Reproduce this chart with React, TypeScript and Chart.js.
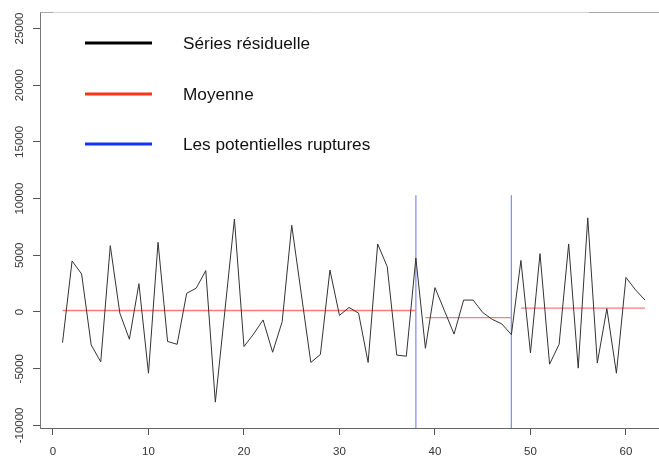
import React, { useEffect, useRef } from "react";
import { Chart, registerables } from "chart.js";

Chart.register(...registerables);

// ---- data ----
const X_INDEX = [
  1, 2, 3, 4, 5, 6, 7, 8, 9, 10, 11, 12, 13, 14, 15, 16, 17, 18, 19, 20, 21,
  22, 23, 24, 25, 26, 27, 28, 29, 30, 31, 32, 33, 34, 35, 36, 37, 38, 39, 40,
  41, 42, 43, 44, 45, 46, 47, 48, 49, 50, 51, 52, 53, 54, 55, 56, 57, 58, 59,
  60, 61, 62,
];
const RESIDUALS = [
  -2700, 4500, 3350, -2900, -4400, 5850, -100, -2400, 2500, -5400, 6150,
  -2600, -2850, 1650, 2100, 3650, -7950, 100, 8200, -3050, -1950, -700, -3550,
  -850, 7650, 1600, -4450, -3750, 3700, -300, 400, -100, -4450, 6000, 4000,
  -3800, -3900, 4750, -3200, 2150, 100, -1950, 1050, 1050, -50, -650, -1050,
  -2000, 4550, -3600, 5150, -4600, -2850, 6000, -4950, 8300, -4500, 300,
  -5400, 3050, 1950, 1050,
];
const MEAN_STARTS = [1, 39, 49];
const MEAN_ENDS = [38, 48, 62];
const MEAN_VALUES = [130, -500, 350];
const BREAKS = [38, 48];
const BREAK_TOP = 10300;

const X_TICKS = [0, 10, 20, 30, 40, 50, 60];
const Y_TICKS = [-10000, -5000, 0, 5000, 10000, 15000, 20000, 25000];
const Y_TICK_LABELS = ["-10000", "-5000", "0", "5000", "10000", "15000", "20000", "25000"];
const X_MIN = -1.36;
const X_MAX = 63.46;
const Y_MIN = -10230;
const Y_MAX = 26455;

const LEGEND_LABELS = ["Séries résiduelle", "Moyenne", "Les potentielles ruptures"];
const LEGEND_COLORS = ["#000000", "#ff3311", "#1133ff"];

const FONT = "'Liberation Sans', Arial, Helvetica, sans-serif";

const decorPlugin = {
  id: "decor",
  afterDraw(chart: any) {
    const ctx = chart.ctx as CanvasRenderingContext2D;
    const area = chart.chartArea;
    const ys = chart.scales.y;
    ctx.save();
    // top frame line (light, darker at the right end)
    ctx.lineWidth = 1;
    ctx.strokeStyle = "#d2d2d2";
    ctx.beginPath();
    ctx.moveTo(area.left, area.top + 0.5);
    ctx.lineTo(589, area.top + 0.5);
    ctx.stroke();
    ctx.strokeStyle = "#a8a8a8";
    ctx.beginPath();
    ctx.moveTo(589, area.top + 0.5);
    ctx.lineTo(area.right, area.top + 0.5);
    ctx.moveTo(area.left, area.top + 0.5);
    ctx.lineTo(area.left + 13, area.top + 0.5);
    ctx.stroke();

    // rotated y tick labels
    ctx.font = `11.5px ${FONT}`;
    ctx.fillStyle = "#333333";
    ctx.textAlign = "center";
    ctx.textBaseline = "middle";
    Y_TICKS.forEach((v, i) => {
      const py = ys.getPixelForValue(v);
      ctx.save();
      ctx.translate(area.left - 20, py);
      ctx.rotate(-Math.PI / 2);
      ctx.fillText(Y_TICK_LABELS[i], 0, 0);
      ctx.restore();
    });

    // legend
    const lx0 = area.left + 45;
    const lx1 = area.left + 112;
    const tx = area.left + 143;
    const rowY = [area.top + 31, area.top + 82, area.top + 132];
    ctx.font = `17.2px ${FONT}`;
    ctx.textAlign = "left";
    ctx.textBaseline = "middle";
    LEGEND_LABELS.forEach((label, i) => {
      ctx.strokeStyle = LEGEND_COLORS[i];
      ctx.lineWidth = 3;
      ctx.beginPath();
      ctx.moveTo(lx0, rowY[i]);
      ctx.lineTo(lx1, rowY[i]);
      ctx.stroke();
      ctx.fillStyle = "#111111";
      ctx.fillText(label, tx, rowY[i] + 1);
    });
    ctx.restore();
  },
};

export default function App() {
  const ref = useRef<HTMLCanvasElement | null>(null);

  useEffect(() => {
    if (!ref.current) return;
    const datasets: any[] = [];
    datasets.push({
      label: LEGEND_LABELS[0],
      data: X_INDEX.map((x, i) => ({ x, y: RESIDUALS[i] })),
      borderColor: "#333333",
      borderWidth: 1,
      pointRadius: 0,
      tension: 0,
      order: 1,
    });
    MEAN_VALUES.forEach((m, i) => {
      datasets.push({
        label: LEGEND_LABELS[1],
        data: [
          { x: MEAN_STARTS[i], y: m },
          { x: MEAN_ENDS[i], y: m },
        ],
        borderColor: "#ff7b7b",
        borderWidth: 1.3,
        pointRadius: 0,
        order: 2,
      });
    });
    BREAKS.forEach((b) => {
      datasets.push({
        label: LEGEND_LABELS[2],
        data: [
          { x: b, y: Y_MIN },
          { x: b, y: BREAK_TOP },
        ],
        borderColor: "#8c8cff",
        borderWidth: 1.3,
        pointRadius: 0,
        order: 3,
      });
    });

    const chart = new Chart(ref.current, {
      type: "line",
      data: { datasets },
      options: {
        animation: false,
        responsive: false,
        devicePixelRatio: 1,
        layout: { padding: { top: 12, right: 0, left: 0, bottom: 0 } },
        plugins: {
          legend: { display: false },
          tooltip: { enabled: false },
        },
        scales: {
          x: {
            type: "linear",
            min: X_MIN,
            max: X_MAX,
            afterBuildTicks: (s: any) => {
              s.ticks = X_TICKS.map((v) => ({ value: v }));
            },
            afterFit: (s: any) => {
              s.height = 29;
            },
            grid: {
              display: true,
              drawOnChartArea: false,
              drawTicks: true,
              tickLength: 7,
              tickColor: "#555555",
            },
            border: { display: true, color: "#666666", width: 1 },
            ticks: {
              autoSkip: false,
              maxRotation: 0,
              padding: 10,
              color: "#333333",
              font: { family: FONT, size: 11.5 },
            },
          },
          y: {
            type: "linear",
            min: Y_MIN,
            max: Y_MAX,
            afterBuildTicks: (s: any) => {
              s.ticks = Y_TICKS.map((v) => ({ value: v }));
            },
            afterFit: (s: any) => {
              s.width = 40;
            },
            grid: {
              display: true,
              drawOnChartArea: false,
              drawTicks: true,
              tickLength: 7,
              tickColor: "#555555",
            },
            border: { display: true, color: "#777777", width: 1 },
            ticks: { display: false },
          },
        },
      },
      plugins: [decorPlugin],
    });
    return () => chart.destroy();
  }, []);

  return (
    <div style={{ position: "absolute", left: 0, top: 0, width: 659, height: 457, background: "#fff" }}>
      <canvas ref={ref} width={659} height={457} style={{ width: 659, height: 457, display: "block" }} />
    </div>
  );
}
